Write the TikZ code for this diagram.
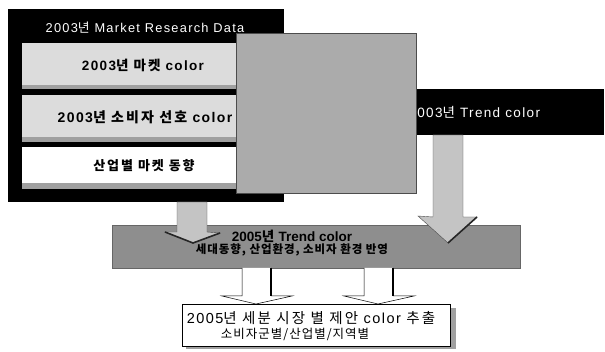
\documentclass[tikz,border=0pt]{standalone}
\usepackage{fontspec}
\setmainfont{Noto Sans CJK KR}
\newfontfamily\krwide[LetterSpace=15]{Noto Sans CJK KR}
\newfontfamily\krmid[LetterSpace=8]{Noto Sans CJK KR}
\newfontfamily\latwide[LetterSpace=10]{Liberation Sans}
\newfontfamily\lat{Liberation Sans}
\definecolor{noise}{HTML}{ABABAB}
\definecolor{bardark}{HTML}{8E8E8E}
\definecolor{lightbox}{HTML}{DCDCDC}
\definecolor{arrowgray}{HTML}{C4C4C4}
\definecolor{shadowgray}{HTML}{A0A0A0}
\newcommand{\LW}[1]{{\latwide #1}}
\tikzset{
  panel/.style={anchor=north west, inner sep=0pt, outer sep=0pt},
  blockarrow/.style={fill=arrowgray, draw=black!70, line width=0.4pt},
  hollowarrow/.style={fill=white, draw=black, line width=0.5pt},
  shade/.style={line width=1.6pt, draw=black!85},
}
\begin{document}
\begin{tikzpicture}[x=1pt,y=-1pt]
\useasboundingbox (0,0) rectangle (605,352);
% left black panel
\node[panel, fill=black, minimum width=276pt, minimum height=193pt] (mrd) at (8,9) {};
\node[text=white, font=\krwide\fontsize{12.8}{14}\selectfont] (mrdtitle) at (145,28) {\LW{2003}년 \LW{Market Research Data}};
% inner boxes with shadows
\fill[shadowgray] (22,84) rectangle (265,89);
\node[panel, fill=lightbox, minimum width=243pt, minimum height=42pt] (b1) at (22,43) {};
\node[font=\krwide\bfseries\fontsize{13.5}{15}\selectfont] (b1t) at (143,65) {\LW{\bfseries 2003}년 마켓 \LW{\bfseries color}};
\fill[shadowgray] (22,137) rectangle (265,142);
\node[panel, fill=lightbox, minimum width=243pt, minimum height=42pt] (b2) at (22,95) {};
\node[font=\krwide\bfseries\fontsize{14}{15}\selectfont] (b2t) at (145,117) {\LW{\bfseries 2003}년 소비자 선호 \LW{\bfseries color}};
\fill[shadowgray] (22,183) rectangle (237,189);
\node[panel, fill=white, minimum width=215pt, minimum height=36pt] (b3) at (22,147) {};
\node[font=\krwide\bfseries\fontsize{13}{14}\selectfont] (b3t) at (144,166) {산업별 마켓 동향};
% trend black bar
\node[panel, fill=black, minimum width=224pt, minimum height=46pt] (trend) at (380,89) {};
\node[anchor=west, text=white, font=\krwide\fontsize{13.5}{15}\selectfont] (trendt) at (405,112) {\LW{2003}년 \LW{Trend color}};
% gray square
\node[panel, fill=noise, draw=black!70, line width=0.5pt, minimum width=180pt, minimum height=160pt] (sq) at (236,33) {};
% 2005 bar
\node[panel, fill=bardark, draw=black!60, line width=0.4pt, minimum width=408pt, minimum height=43pt] (bar) at (112,225) {};
% right block arrow
\draw[blockarrow] (433,135) -- (433,217) -- (418,216) -- (448,243) -- (477,217) -- (463,217) -- (463,135) -- cycle;
\draw[shade] (448,243) -- (477,217);
% left block arrow
\draw[blockarrow] (177,202) -- (177,232) -- (165,232) -- (193,243) -- (220,233) -- (207,232) -- (207,202) -- cycle;
\draw[shade] (165,232) -- (193,243) -- (220,233);
\node[font=\krmid\bfseries\fontsize{13.5}{15}\selectfont] (bart1) at (292,236) {{\lat\bfseries 2005}년 {\lat\bfseries Trend color}};
\node[font=\krmid\bfseries\fontsize{11.5}{13}\selectfont] (bart2) at (292,250) {세대동향, 산업환경, 소비자 환경 반영};
% hollow connectors
\draw[hollowarrow] (242,268) -- (242,296) -- (222,296) -- (256,304) -- (292,296) -- (271,296) -- (271,268);
\draw[line width=1.3pt] (271,268) -- (271,296);
\draw[hollowarrow] (364,268) -- (364,296) -- (344,296) -- (378,304) -- (414,296) -- (393,296) -- (393,268);
\draw[line width=1.3pt] (393,268) -- (393,296);
% bottom box
\fill[shadowgray] (186,308) rectangle (456,349);
\node[panel, fill=white, draw=black, line width=0.6pt, minimum width=268pt, minimum height=42pt] (res) at (182,304) {};
\node[font=\krwide\fontsize{14.5}{15}\selectfont] (rest1) at (311,318) {\LW{2005}년 세분 시장 별 제안 \LW{color} 추출};
\node[font=\krmid\fontsize{12.5}{14}\selectfont] (rest2) at (295,334) {소비자군별/산업별/지역별};
\end{tikzpicture}
\end{document}
